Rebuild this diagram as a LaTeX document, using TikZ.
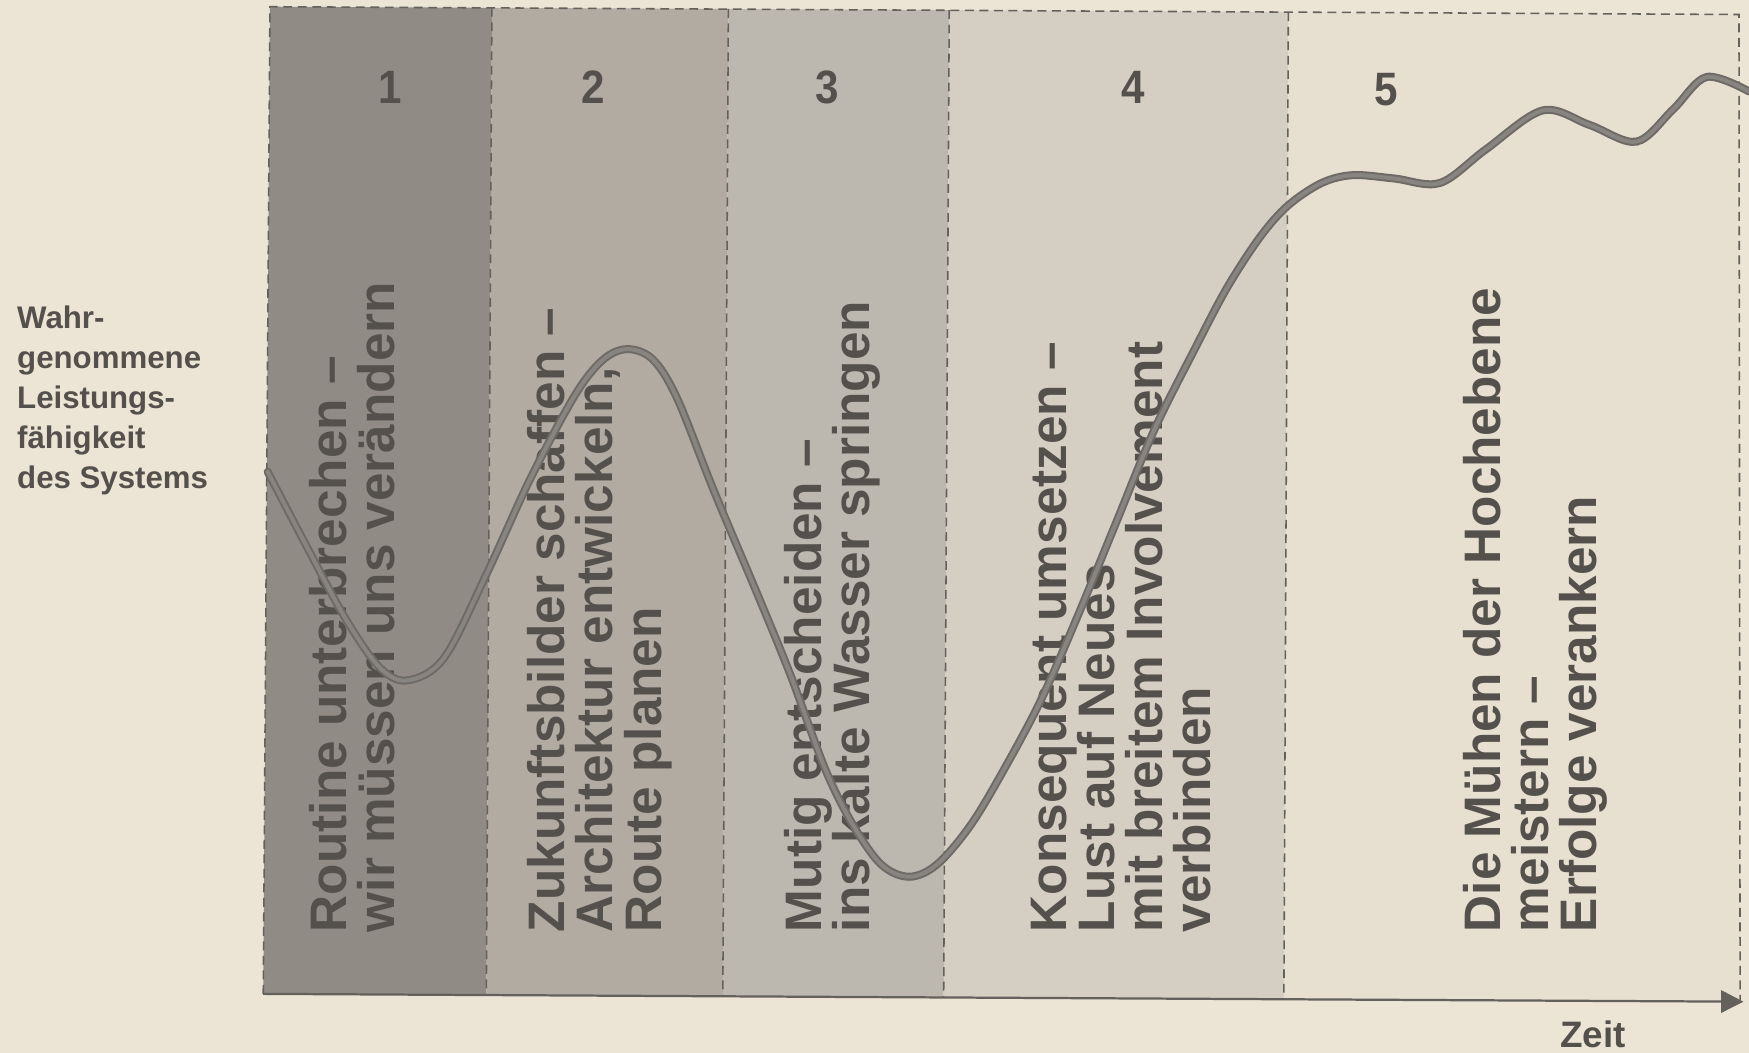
\documentclass[tikz,border=0pt]{standalone}
\usepackage{fontspec}
\setmainfont{Liberation Sans}
\newfontfamily\numfont{Liberation Sans}[FakeStretch=0.9]
\usetikzlibrary{arrows.meta}
\definecolor{bg}{RGB}{236,228,213}
\definecolor{pa}{RGB}{144,139,132}
\definecolor{pb}{RGB}{177,171,162}
\definecolor{pc}{RGB}{189,184,175}
\definecolor{pd}{RGB}{213,206,194}
\definecolor{pe}{RGB}{231,223,208}
\definecolor{txt}{RGB}{84,81,77}
\definecolor{dashcol}{RGB}{100,97,92}
\definecolor{curveout}{RGB}{110,107,103}
\definecolor{curvein}{RGB}{136,132,127}
\tikzset{
  dashb/.style={draw=dashcol, line width=0.7pt, dash pattern=on 4pt off 2.5pt},
  ptext/.style={rotate=90, anchor=south west, text depth=0pt, inner sep=0pt, align=left, text=txt,
    font=\fontsize{23}{21.6}\selectfont\bfseries},
  num/.style={text=txt, inner sep=0pt, font=\numfont\bfseries\fontsize{21}{24}\selectfont},
  lbl/.style={text=txt, inner sep=0pt, anchor=west, align=left, font=\fontsize{14}{17.85}\selectfont\bfseries},
  axisline/.style={draw=dashcol, line width=1pt, -{Triangle[length=10pt,width=10pt]}},
  curveA/.style={draw=curveout, line width=3.6pt, line cap=round},
  curveB/.style={draw=curvein, line width=1.8pt, line cap=round},
}
\begin{document}
\begin{tikzpicture}[x=0.5pt,y=-0.5pt]
\fill[bg] (0,0) rectangle (1568,944);
\useasboundingbox (0,0) rectangle (1568,944);
% frame corners
\coordinate (tl) at (242,6);   \coordinate (bl) at (236,891);
\coordinate (s1t) at (441,7);  \coordinate (s1b) at (436,892);
\coordinate (s2t) at (653,8);  \coordinate (s2b) at (648,893);
\coordinate (s3t) at (851,9);  \coordinate (s3b) at (846,894);
\coordinate (s4t) at (1155,11); \coordinate (s4b) at (1151,896);
\coordinate (tr) at (1559,13); \coordinate (br) at (1560,897);
\coordinate (tip) at (1563,898);
% panel fills
\fill[pa] (tl) -- (s1t) -- (s1b) -- (bl) -- cycle;
\fill[pb] (s1t) -- (s2t) -- (s2b) -- (s1b) -- cycle;
\fill[pc] (s2t) -- (s3t) -- (s3b) -- (s2b) -- cycle;
\fill[pd] (s3t) -- (s4t) -- (s4b) -- (s3b) -- cycle;
\fill[pe] (s4t) -- (tr) -- (br) -- (s4b) -- cycle;
% dashed borders
\draw[dashb] (bl) -- (tl) -- (tr) -- (br);
\draw[dashb] (s1t) -- (s1b);
\draw[dashb] (s2t) -- (s2b);
\draw[dashb] (s3t) -- (s3b);
\draw[dashb] (s4t) -- (s4b);
% numbers
\node[num] (n1) at (350,78) {1};
\node[num] (n2) at (532,78) {2};
\node[num] (n3) at (742,78) {3};
\node[num] (n4) at (1016,78) {4};
\node[num] (n5) at (1243,80) {5};
% vertical phase texts
\node[ptext] (t1) at (354,836) {Routine unterbrechen –\\wir müssen uns verändern};
\node[ptext] (t2) at (593,836) {Zukunftsbilder schaffen –\\Architektur entwickeln,\\Route planen};
\node[ptext] (t3) at (780,836) {Mutig entscheiden –\\ins kalte Wasser springen};
\node[ptext] (t4) at (1086,836) {Konsequent umsetzen –\\Lust auf Neues\\mit breitem Involvement\\verbinden};
\node[ptext] (t5) at (1432,836) {Die Mühen der Hochebene\\meistern –\\Erfolge verankern};
% axis
\draw[axisline] (bl) -- (tip);
\node[lbl] (ylab) at (15,359) {Wahr-\\genommene\\Leistungs-\\fähigkeit\\des Systems};
\node[text=txt, inner sep=0pt, font=\fontsize{16.5}{19}\selectfont\bfseries] (zeit) at (1428,927) {Zeit};
% curve
\def\curvepts{(240,423) (275,490) (310,555) (340,598) (365,610) (398,590) (436,515) (475,430) (515,355) (540,323) (562,313) (585,322) (607,357) (640,440) (680,535) (709,606) (740,690) (765,740) (790,775) (815,786) (840,775) (870,740) (900,690) (933,628) (965,555) (1000,470) (1035,385) (1070,315) (1100,258) (1130,212) (1155,184) (1185,164) (1213,157) (1250,160) (1291,164) (1332,134) (1383,99) (1425,112) (1467,127) (1500,98) (1530,69) (1568,82)}
\draw[curveA] plot[smooth, tension=0.55] coordinates {\curvepts};
\draw[curveB] plot[smooth, tension=0.55] coordinates {\curvepts};
\end{tikzpicture}
\end{document}
